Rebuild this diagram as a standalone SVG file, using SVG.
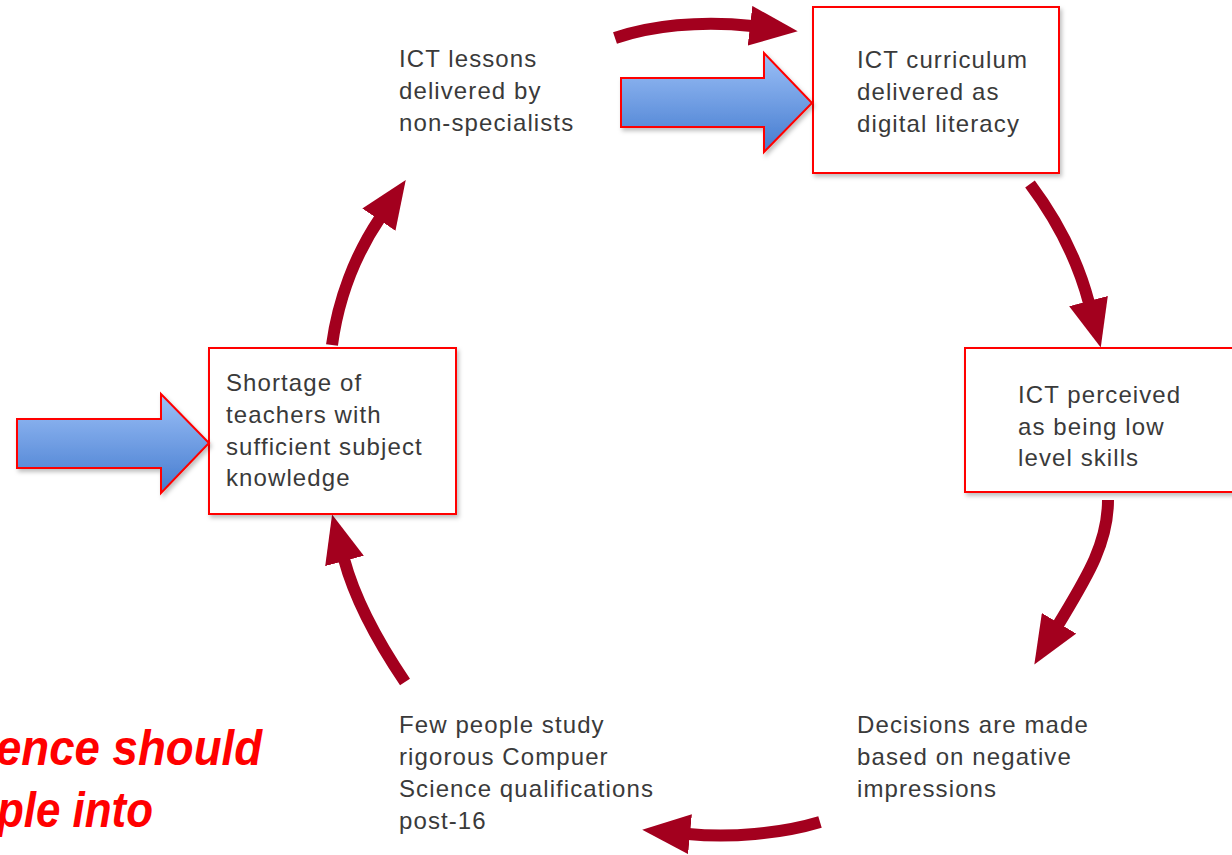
<svg xmlns="http://www.w3.org/2000/svg" width="1232" height="855" viewBox="0 0 1232 855">
<style>
  .lbl { font-family: "Liberation Sans", Arial, sans-serif; font-size: 24px; letter-spacing: 1.1px; fill: #3a3a3a; }
  .box { fill: #ffffff; stroke: #ff0000; stroke-width: 2; filter: url(#shadow); }
  .conn { fill: none; stroke: #a3001e; stroke-width: 12; marker-end: url(#head); }
  .blue { fill: url(#blueGrad); stroke: #ff0000; stroke-width: 2; filter: url(#shadow); }
  .note { font-family: "Liberation Sans", Arial, sans-serif; font-size: 50px; font-weight: bold; font-style: italic; fill: #ff0000; }
</style>
<defs>
  <filter id="shadow" x="-10%" y="-10%" width="125%" height="130%">
    <feDropShadow dx="2" dy="3" stdDeviation="2" flood-color="#000" flood-opacity="0.25"/>
  </filter>
  <linearGradient id="blueGrad" x1="0" y1="0" x2="0" y2="1">
    <stop offset="0" stop-color="#9cc0f7"/>
    <stop offset="1" stop-color="#447bcf"/>
  </linearGradient>
  <marker id="head" markerUnits="userSpaceOnUse" viewBox="0 0 48 40" refX="2" refY="20" markerWidth="48" markerHeight="40" orient="auto">
    <path d="M0,0 L48,20 L0,40 z" fill="#a3001e"/>
  </marker>
</defs>

<g id="connectors">
  <path class="conn" d="M615,38 C650,26 700,20 752,26"/>
  <path class="conn" d="M1030,184 C1048,208 1075,250 1089,303"/>
  <path class="conn" d="M1108,500 C1108,545 1085,580 1058,625"/>
  <path class="conn" d="M820,822 C780,834 730,838 688,834"/>
  <path class="conn" d="M405,682 C380,645 355,600 344,559"/>
  <path class="conn" d="M332,345 C338,300 355,255 380,218"/>
</g>

<g id="node-lessons">
  <text class="lbl" x="399" y="67">ICT lessons</text>
  <text class="lbl" x="399" y="99">delivered by</text>
  <text class="lbl" x="399" y="131">non-specialists</text>
</g>

<g id="node-curriculum">
  <rect class="box" x="813" y="7" width="246" height="166"/>
  <text class="lbl" x="857" y="68">ICT curriculum</text>
  <text class="lbl" x="857" y="100">delivered as</text>
  <text class="lbl" x="857" y="132">digital literacy</text>
</g>

<g id="node-perceived">
  <rect class="box" x="965" y="348" width="290" height="144"/>
  <text class="lbl" x="1018" y="403">ICT perceived</text>
  <text class="lbl" x="1018" y="435">as being low</text>
  <text class="lbl" x="1018" y="466">level skills</text>
</g>

<g id="node-decisions">
  <text class="lbl" x="857" y="733">Decisions are made</text>
  <text class="lbl" x="857" y="765">based on negative</text>
  <text class="lbl" x="857" y="797">impressions</text>
</g>

<g id="node-few">
  <text class="lbl" x="399" y="733">Few people study</text>
  <text class="lbl" x="399" y="765">rigorous Compuer</text>
  <text class="lbl" x="399" y="797">Science qualifications</text>
  <text class="lbl" x="399" y="829">post-16</text>
</g>

<g id="node-shortage">
  <rect class="box" x="209" y="348" width="247" height="166"/>
  <text class="lbl" x="226" y="391">Shortage of</text>
  <text class="lbl" x="226" y="423">teachers with</text>
  <text class="lbl" x="226" y="455">sufficient subject</text>
  <text class="lbl" x="226" y="486">knowledge</text>
</g>

<g id="input-arrow-top">
  <path class="blue" d="M621,78 L764,78 L764,53 L812,103 L764,152 L764,127 L621,127 z"/>
</g>
<g id="input-arrow-left">
  <path class="blue" d="M17,419 L161,419 L161,394 L209,443 L161,493 L161,468 L17,468 z"/>
</g>

<g id="note">
  <text class="note" x="-4" y="765" textLength="266" lengthAdjust="spacingAndGlyphs">ence should</text>
  <text class="note" x="-3" y="827" textLength="156" lengthAdjust="spacingAndGlyphs">ple into</text>
</g>
</svg>
